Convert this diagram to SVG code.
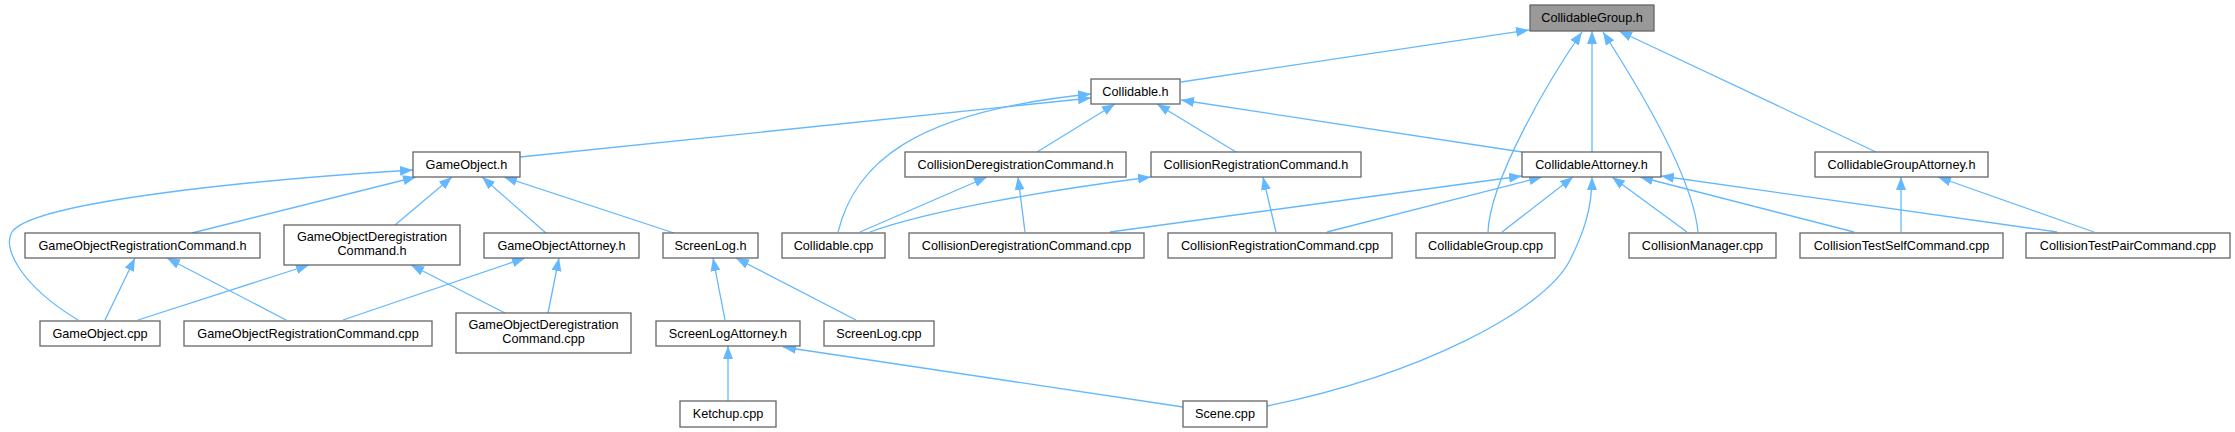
<svg xmlns="http://www.w3.org/2000/svg" width="2235" height="432" viewBox="0 0 2235 432">
<style>
.n rect{fill:#ffffff;stroke:#666666;stroke-width:1.3}
.root rect{fill:#999999;stroke:#666666;stroke-width:1.3}
.n text,.root text{font-family:"Liberation Sans",Arial,sans-serif;font-size:12.7px;text-anchor:middle;fill:#000000}
.e path{fill:none;stroke:#63b8ff;stroke-width:1.3;marker-end:url(#arr)}
</style>
<defs>
<marker id="arr" markerUnits="userSpaceOnUse" markerWidth="14" markerHeight="12" viewBox="0 0 14 12" refX="13" refY="6" orient="auto">
<path d="M0,1 L13,6 L0,11 z" fill="#63b8ff"/>
</marker>
</defs>
<rect width="2235" height="432" fill="#ffffff"/>
<g id="edges" class="e">
<path d="M1181,82 L1529,30"/>
<path d="M1488,232 C1490,180 1548,81 1582,32"/>
<path d="M1592,152 L1592,31"/>
<path d="M1698,232 C1694,190 1660,120 1603,32"/>
<path d="M1876,152 L1619,31"/>
<path d="M520,157 L1091,98"/>
<path d="M838,232 C855,165 910,112 1091,94"/>
<path d="M1037,152 L1115,104"/>
<path d="M1236,152 L1157,104"/>
<path d="M1522,152 L1181,100"/>
<path d="M78,320 C20,285 2,247 12,232 C32,202 250,180 413,170"/>
<path d="M192,233 L416,177"/>
<path d="M395,225 L452,177"/>
<path d="M546,233 L482,177"/>
<path d="M674,233 L504,177"/>
<path d="M105,320 L135,258"/>
<path d="M286,320 L167,258"/>
<path d="M138,320 L309,265"/>
<path d="M505,313 L411,265"/>
<path d="M343,320 L525,258"/>
<path d="M548,313 L559,258"/>
<path d="M725,320 L713,258"/>
<path d="M856,320 L736,258"/>
<path d="M728,401 L728,346"/>
<path d="M1183,407 L783,347"/>
<path d="M860,232 L987,177"/>
<path d="M1025,232 L1018,177"/>
<path d="M870,232 C930,210 1050,190 1151,177"/>
<path d="M1276,232 L1263,177"/>
<path d="M1110,232 L1522,176"/>
<path d="M1327,232 L1542,177"/>
<path d="M1502,232 L1573,177"/>
<path d="M1267,406 C1420,375 1545,310 1570,260 C1583,234 1592,210 1592,177"/>
<path d="M1687,232 L1612,177"/>
<path d="M1854,232 L1640,177"/>
<path d="M2057,232 L1661,176"/>
<path d="M1901,232 L1901,177"/>
<path d="M2094,232 L1938,177"/>
</g>
<g id="n_CollidableGroup_h" class="root"><rect x="1530" y="5" width="124" height="26"/><text x="1592" y="22.3">CollidableGroup.h</text></g>
<g id="n_Collidable_h" class="n"><rect x="1091" y="79" width="89" height="25"/><text x="1135.5" y="95.8">Collidable.h</text></g>
<g id="n_GameObject_h" class="n"><rect x="413" y="152" width="107" height="25"/><text x="466.5" y="168.8">GameObject.h</text></g>
<g id="n_CDC_h" class="n"><rect x="905" y="152" width="221" height="25"/><text x="1015.5" y="168.8">CollisionDeregistrationCommand.h</text></g>
<g id="n_CRC_h" class="n"><rect x="1151" y="152" width="210" height="25"/><text x="1256" y="168.8">CollisionRegistrationCommand.h</text></g>
<g id="n_CollidableAttorney_h" class="n"><rect x="1522" y="152" width="139" height="25"/><text x="1591.5" y="168.8">CollidableAttorney.h</text></g>
<g id="n_CGA_h" class="n"><rect x="1815" y="152" width="173" height="25"/><text x="1901.5" y="168.8">CollidableGroupAttorney.h</text></g>
<g id="n_GORC_h" class="n"><rect x="25" y="233" width="235" height="25"/><text x="142.5" y="249.8">GameObjectRegistrationCommand.h</text></g>
<g id="n_GODC_h" class="n"><rect x="284" y="225" width="176" height="40"/><text x="372" y="240.5">GameObjectDeregistration</text><text x="372" y="255">Command.h</text></g>
<g id="n_GOA_h" class="n"><rect x="484" y="233" width="155" height="25"/><text x="561.5" y="249.8">GameObjectAttorney.h</text></g>
<g id="n_ScreenLog_h" class="n"><rect x="663" y="233" width="95" height="25"/><text x="710.5" y="249.8">ScreenLog.h</text></g>
<g id="n_Collidable_cpp" class="n"><rect x="782" y="233" width="103" height="25"/><text x="833.5" y="249.8">Collidable.cpp</text></g>
<g id="n_CDC_cpp" class="n"><rect x="909" y="233" width="235" height="25"/><text x="1026.5" y="249.8">CollisionDeregistrationCommand.cpp</text></g>
<g id="n_CRC_cpp" class="n"><rect x="1168" y="233" width="224" height="25"/><text x="1280" y="249.8">CollisionRegistrationCommand.cpp</text></g>
<g id="n_CollidableGroup_cpp" class="n"><rect x="1416" y="233" width="139" height="25"/><text x="1485.5" y="249.8">CollidableGroup.cpp</text></g>
<g id="n_CollisionManager_cpp" class="n"><rect x="1629" y="233" width="147" height="25"/><text x="1702.5" y="249.8">CollisionManager.cpp</text></g>
<g id="n_CTSC_cpp" class="n"><rect x="1800" y="233" width="203" height="25"/><text x="1901.5" y="249.8">CollisionTestSelfCommand.cpp</text></g>
<g id="n_CTPC_cpp" class="n"><rect x="2026" y="233" width="204" height="25"/><text x="2128" y="249.8">CollisionTestPairCommand.cpp</text></g>
<g id="n_GameObject_cpp" class="n"><rect x="40" y="321" width="120" height="25"/><text x="100" y="337.8">GameObject.cpp</text></g>
<g id="n_GORC_cpp" class="n"><rect x="184" y="321" width="248" height="25"/><text x="308" y="337.8">GameObjectRegistrationCommand.cpp</text></g>
<g id="n_GODC_cpp" class="n"><rect x="456" y="313" width="175" height="40"/><text x="543.5" y="328.5">GameObjectDeregistration</text><text x="543.5" y="343">Command.cpp</text></g>
<g id="n_ScreenLogAttorney_h" class="n"><rect x="656" y="321" width="144" height="25"/><text x="728" y="337.8">ScreenLogAttorney.h</text></g>
<g id="n_ScreenLog_cpp" class="n"><rect x="824" y="321" width="110" height="25"/><text x="879" y="337.8">ScreenLog.cpp</text></g>
<g id="n_Ketchup_cpp" class="n"><rect x="680" y="401" width="96" height="26"/><text x="728" y="418.3">Ketchup.cpp</text></g>
<g id="n_Scene_cpp" class="n"><rect x="1183" y="401" width="84" height="26"/><text x="1225" y="418.3">Scene.cpp</text></g>
</svg>
